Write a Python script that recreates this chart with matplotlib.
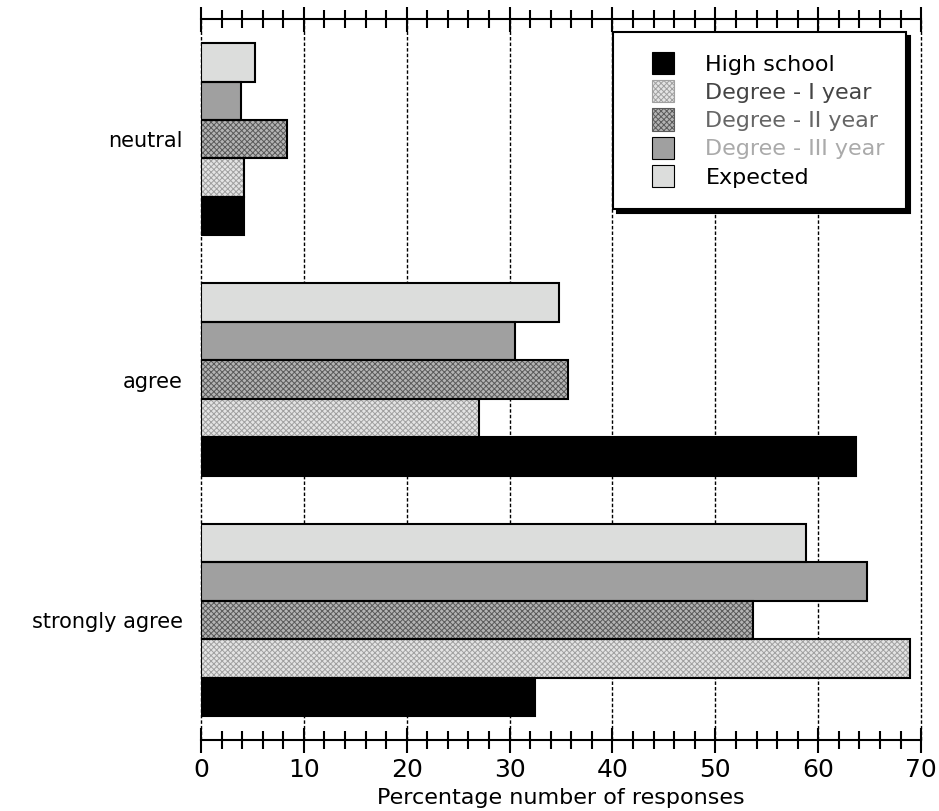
import matplotlib
matplotlib.use("Agg")
import matplotlib.pyplot as plt
import numpy as np
from matplotlib.patches import Patch, Rectangle
from matplotlib.legend_handler import HandlerPatch
from matplotlib.ticker import MultipleLocator

categories = ["strongly agree", "agree", "neutral"]
series = ["High school", "Degree - I year", "Degree - II year", "Degree - III year", "Expected"]
high_school = [32.5, 63.7, 4.2]
degree_1 = [68.9, 27.0, 4.2]
degree_2 = [53.7, 35.7, 8.4]
degree_3 = [64.7, 30.5, 3.9]
expected = [58.8, 34.8, 5.25]
values = [high_school, degree_1, degree_2, degree_3, expected]

faces = ["#000000", "#e4e4e4", "#b4b4b4", "#a0a0a0", "#dcdddc"]
hatches = [None, "xxxxxx", "xxxxxx", None, None]
hatch_cols = ["#000000", "#a0a0a0", "#5a5a5a", "#a0a0a0", "#dcdddc"]
text_cols = ["#000000", "#444444", "#666666", "#aaaaaa", "#000000"]

plt.rcParams["font.family"] = ["DejaVu Sans"]
plt.rcParams["hatch.linewidth"] = 0.7

fig = plt.figure(figsize=(9.39, 8.11), dpi=100)
ax = fig.add_axes([0.214, 0.0875, 0.767, 0.889])

y = np.arange(len(categories))
h = 0.16
offsets = [-0.32, -0.16, 0.0, 0.16, 0.32]
for i, vals in enumerate(values):
    pos = y + offsets[i]
    ax.barh(pos, vals, height=h, color=faces[i], edgecolor=hatch_cols[i],
            hatch=hatches[i], linewidth=0, zorder=3)
    ax.barh(pos, vals, height=h, facecolor="none", edgecolor="black",
            linewidth=1.5, zorder=4)

ax.set_xlim(0, 70)
ax.set_ylim(-0.5, 2.5)
ax.set_yticks(y)
ax.set_yticklabels(categories, fontsize=15)
ax.tick_params(axis="y", length=0, pad=13)

ax.xaxis.set_major_locator(MultipleLocator(10))
ax.xaxis.set_minor_locator(MultipleLocator(2))
ax.tick_params(axis="x", which="major", direction="inout", length=18, width=1.5,
               labelsize=18, top=True, pad=4)
ax.tick_params(axis="x", which="minor", direction="inout", length=13, width=1.5, top=True)
ax.grid(axis="x", which="major", linestyle=(0, (2.5, 1.5)), color="black", linewidth=1.0, zorder=1)
for gl in ax.xaxis.get_gridlines():
    gl.set_clip_on(False)
ax.set_axisbelow(True)

for s in ["left", "right"]:
    ax.spines[s].set_visible(False)
for s in ["top", "bottom"]:
    ax.spines[s].set_linewidth(1.5)

ax.set_xlabel("Percentage number of responses", fontsize=16, labelpad=4)


def square(legend, orig_handle, xdescent, ydescent, width, height, fontsize):
    side = 16.0
    return Rectangle((-xdescent + width - side, -ydescent + (height - side) / 2),
                     side, side)


handles = [Patch(facecolor=faces[i], edgecolor="black" if i in (0, 3, 4) else hatch_cols[i],
                 hatch=hatches[i], linewidth=0.8) for i in range(len(series))]
leg = ax.legend(handles, series, loc="upper right", bbox_to_anchor=(0.979, 0.982),
                fontsize=16, frameon=True, fancybox=False, edgecolor="black",
                shadow={"color": "black", "alpha": 1, "ox": 3, "oy": -3},
                handlelength=1.8, handleheight=1.0, handletextpad=1.4,
                labelspacing=0.3, borderpad=0.95, borderaxespad=0,
                handler_map={Patch: HandlerPatch(patch_func=square)})
leg.get_frame().set_linewidth(1.5)
leg.set_zorder(10)
for t, c in zip(leg.get_texts(), text_cols):
    t.set_color(c)

fig.savefig("out.png", dpi=100)
